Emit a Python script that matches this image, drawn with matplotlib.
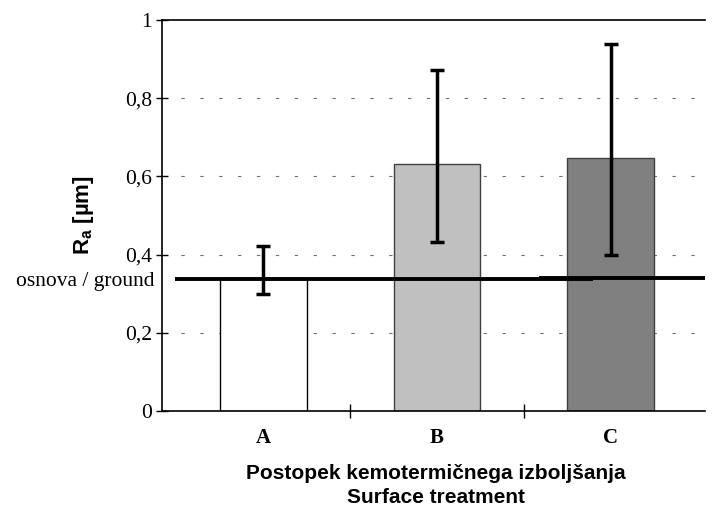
import numpy as np
import matplotlib.pyplot as plt
from matplotlib.ticker import FixedLocator

# podatki
kategorije = ['A', 'B', 'C']
ra = [0.34, 0.632, 0.648]
napaka_spodaj = [0.04, 0.201, 0.250]
napaka_zgoraj = [0.082, 0.241, 0.291]
barve = ['white', '#c0c0c0', '#808080']
robovi = ['black', '#404040', '#404040']

# osnova / ground (dva odseka)
osnova_x = [[-0.51, 1.90], [1.59, 2.55]]
osnova_y = [0.338, 0.341]

y_ticks = [0, 0.2, 0.4, 0.6, 0.8, 1.0]
y_labels = ['0', '0,2', '0,4', '0,6', '0,8', '1']


def main():
    fig = plt.figure(figsize=(7.12, 5.13), dpi=100)
    ax = fig.add_axes([162 / 712, 1 - 411 / 513, (705 - 162) / 712, (411 - 20) / 513])

    x = np.arange(len(kategorije))
    ax.bar(x, ra, width=0.5, color=barve, edgecolor=robovi, linewidth=1.0, zorder=2)
    ax.errorbar(x, ra, yerr=[napaka_spodaj, napaka_zgoraj], fmt='none', ecolor='black',
                elinewidth=2.5, capsize=5, capthick=2.5, zorder=4)

    for (x0, x1), y in zip(osnova_x, osnova_y):
        ax.plot([x0, x1], [y, y], color='black', linewidth=2.8, solid_capstyle='butt', zorder=3)

    ax.set_xlim(-0.583, 2.543)
    ax.set_ylim(0, 1)

    # mreža
    for y in y_ticks[1:-1]:
        ax.axhline(y, color='#707070', linewidth=0.8, linestyle=(0, (3, 14)), zorder=1)

    ax.set_yticks(y_ticks)
    ax.set_yticklabels(y_labels, fontfamily='Liberation Serif', fontsize=15.5)
    ax.tick_params(axis='y', direction='inout', length=8, width=1, pad=3)

    ax.set_xticks(x)
    ax.set_xticklabels(kategorije, fontfamily='Liberation Serif', fontsize=15, fontweight='bold')
    ax.tick_params(axis='x', which='major', length=0, pad=12)
    ax.xaxis.set_minor_locator(FixedLocator([0.5, 1.5]))
    ax.tick_params(axis='x', which='minor', direction='inout', length=10, width=1)

    for s in ['left', 'bottom', 'top']:
        ax.spines[s].set_linewidth(1.2)
    ax.spines['right'].set_visible(False)

    ax.text(-0.629, 0.332, 'osnova / ground', fontfamily='Liberation Serif', fontsize=15.5,
            ha='right', va='center', clip_on=False)

    ax.set_xlabel('Postopek kemotermičnega izboljšanja\nSurface treatment',
                  fontfamily='Liberation Sans', fontsize=15, fontweight='bold',
                  linespacing=1.3, va='center')
    ax.xaxis.set_label_coords(0.505, -0.19)
    ax.set_ylabel(r'R$_\mathregular{a}$ [µm]', fontfamily='Liberation Sans', fontsize=16,
                  fontweight='bold', va='center')
    ax.yaxis.set_label_coords(-0.145, 0.50)

    fig.savefig('out.png', dpi=100)


if __name__ == '__main__':
    main()
